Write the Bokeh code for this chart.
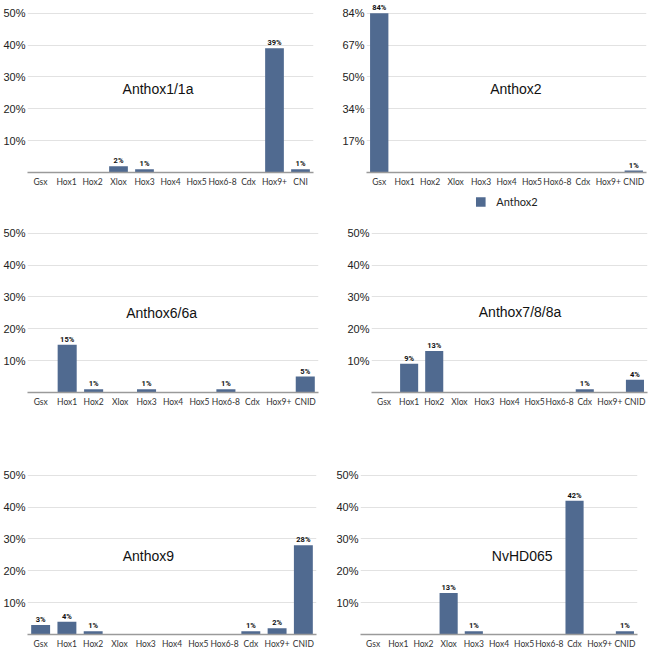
from bokeh.plotting import figure
from bokeh.models import (FactorRange, FixedTicker, Range1d, Label, Legend, LegendItem,
                          ColumnDataSource, PrintfTickFormatter, CustomJSTickFormatter)
from bokeh.layouts import column, row
from bokeh.embed import file_html
from bokeh.resources import INLINE
from bokeh.core.properties import value

# ---------------- data ----------------
categories = ["Gsx", "Hox1", "Hox2", "Xlox", "Hox3", "Hox4", "Hox5", "Hox6-8", "Cdx", "Hox9+", "CNID"]

anthox1 = [0, 0, 0, 2, 1, 0, 0, 0, 0, 39, 1]
anthox2 = [84, 0, 0, 0, 0, 0, 0, 0, 0, 0, 1]
anthox6 = [0, 15, 1, 0, 1, 0, 0, 1, 0, 0, 5]
anthox7 = [0, 9, 13, 0, 0, 0, 0, 0, 1, 0, 4]
anthox9 = [3, 4, 1, 0, 0, 0, 0, 0, 1, 2, 28]
nvhd065 = [0, 0, 0, 13, 1, 0, 0, 0, 42, 0, 1]

panel_names = ["Anthox1/1a", "Anthox2", "Anthox6/6a", "Anthox7/8/8a", "Anthox9", "NvHD065"]

ticks_std = [10, 20, 30, 40, 50]
ticks_anthox2 = [16.8, 33.6, 50.4, 67.2, 84]

BAR = "#506a90"
FRAME_H = 172


def panel(name, vals, ticks, ymax, fw, bl, br, bt, bb, tx, ty, cut_last=False):
    p = figure(x_range=FactorRange(factors=categories), y_range=Range1d(0, ymax),
               frame_width=fw, frame_height=FRAME_H,
               min_border_left=bl, min_border_right=br,
               min_border_top=bt, min_border_bottom=bb,
               output_backend="svg", toolbar_location=None)
    p.outline_line_color = None
    p.background_fill_color = "white"
    p.border_fill_color = "white"
    p.xgrid.grid_line_color = None
    p.ygrid.grid_line_color = "#e2e2e2"
    p.ygrid.grid_line_width = 1

    p.yaxis.ticker = FixedTicker(ticks=ticks)
    p.yaxis.formatter = PrintfTickFormatter(format="%.0f%%")
    p.yaxis.axis_line_color = None
    p.yaxis.major_tick_line_color = None
    p.yaxis.minor_tick_line_color = None
    p.yaxis.major_tick_out = 0
    p.yaxis.major_tick_in = 0
    p.yaxis.major_label_text_font = "Liberation Sans"
    p.yaxis.major_label_text_font_size = "11px"
    p.yaxis.major_label_text_color = "#222222"
    p.yaxis.major_label_standoff = 2

    p.xaxis.axis_line_color = "#9a9a9a"
    p.xaxis.axis_line_width = 1.5
    p.xaxis.major_tick_line_color = None
    p.xaxis.minor_tick_line_color = None
    p.xaxis.major_tick_out = 0
    p.xaxis.major_tick_in = 0
    p.xaxis.major_label_text_font = "Lato"
    p.xaxis.major_label_text_font_size = "8.5px"
    p.xaxis.major_label_text_color = "#333333"
    p.xaxis.major_label_standoff = 4
    if cut_last:
        # the right-most label is cut short at the picture edge in the original
        p.xaxis.formatter = CustomJSTickFormatter(
            code="return tick == 'CNID' ? 'CNI' : tick;")

    src = ColumnDataSource(dict(cat=categories, val=vals))
    bars = p.vbar(x="cat", top="val", width=0.72, source=src,
                  fill_color=BAR, line_color=None)

    nz_cat = [c for c, v in zip(categories, vals) if v > 0]
    nz_val = [v for v in vals if v > 0]
    lab = ColumnDataSource(dict(cat=nz_cat, val=nz_val,
                                txt=["%d%%" % v for v in nz_val]))
    p.text(x="cat", y="val", text="txt", source=lab,
           text_align="center", text_baseline="bottom", y_offset=-1,
           text_font=value("Roboto"), text_font_style="bold",
           text_font_size="7.5px", text_color="#111111")

    p.add_layout(Label(x=tx, y=ty, text=name, text_align="center",
                       text_baseline="middle", text_font="Liberation Sans",
                       text_font_size="14px", text_color="#111111"))
    return p


def legend_fig(name, vals, fw, bl, br, h):
    lf = figure(x_range=FactorRange(factors=categories), y_range=Range1d(0, 1),
                frame_width=fw, frame_height=h, min_border_left=bl, min_border_right=br,
                min_border_top=0, min_border_bottom=0,
                output_backend="svg", toolbar_location=None)
    lf.outline_line_color = None
    lf.axis.visible = False
    lf.grid.visible = False
    src = ColumnDataSource(dict(cat=categories, val=vals))
    r = lf.vbar(x="cat", top="val", width=0.72, source=src,
                fill_color=BAR, line_color=None, visible=False)
    lg = Legend(items=[LegendItem(label=name, renderers=[r])],
                location="center", orientation="horizontal",
                border_line_color=None, background_fill_alpha=0,
                inactive_fill_alpha=0,
                label_text_font="Lato", label_text_font_size="11px",
                label_text_color="#222222",
                glyph_width=12, glyph_height=12, padding=0, margin=0,
                label_standoff=10)
    lf.add_layout(lg, "center")
    return lf


p1 = panel(panel_names[0], anthox1, ticks_std, 54, 286, 25, 12, 0, 40, 5.02, 26.1,
           cut_last=True)
p2 = panel(panel_names[1], anthox2, ticks_anthox2, 84 * 54 / 50, 280, 41, 2, 0, 18, 5.87, 43.8)
leg = legend_fig(panel_names[1], anthox2, 280, 41, 2, 22)
p3 = panel(panel_names[2], anthox6, ticks_std, 54, 291, 24, 8, 8, 22, 5.07, 25.1)
p4 = panel(panel_names[3], anthox7, ticks_std, 54, 276, 45, 2, 8, 22, 5.92, 25.3)
p5 = panel(panel_names[4], anthox9, ticks_std, 54, 289, 27, 7, 48, 18, 4.6, 24.8)
p6 = panel(panel_names[5], nvhd065, ticks_std, 54, 277, 37, 9, 48, 18, 6.42, 24.8)

layout = column(row(p1, column(p2, leg)), row(p3, p4), row(p5, p6))

open("out.html", "w").write(file_html(layout, INLINE))
